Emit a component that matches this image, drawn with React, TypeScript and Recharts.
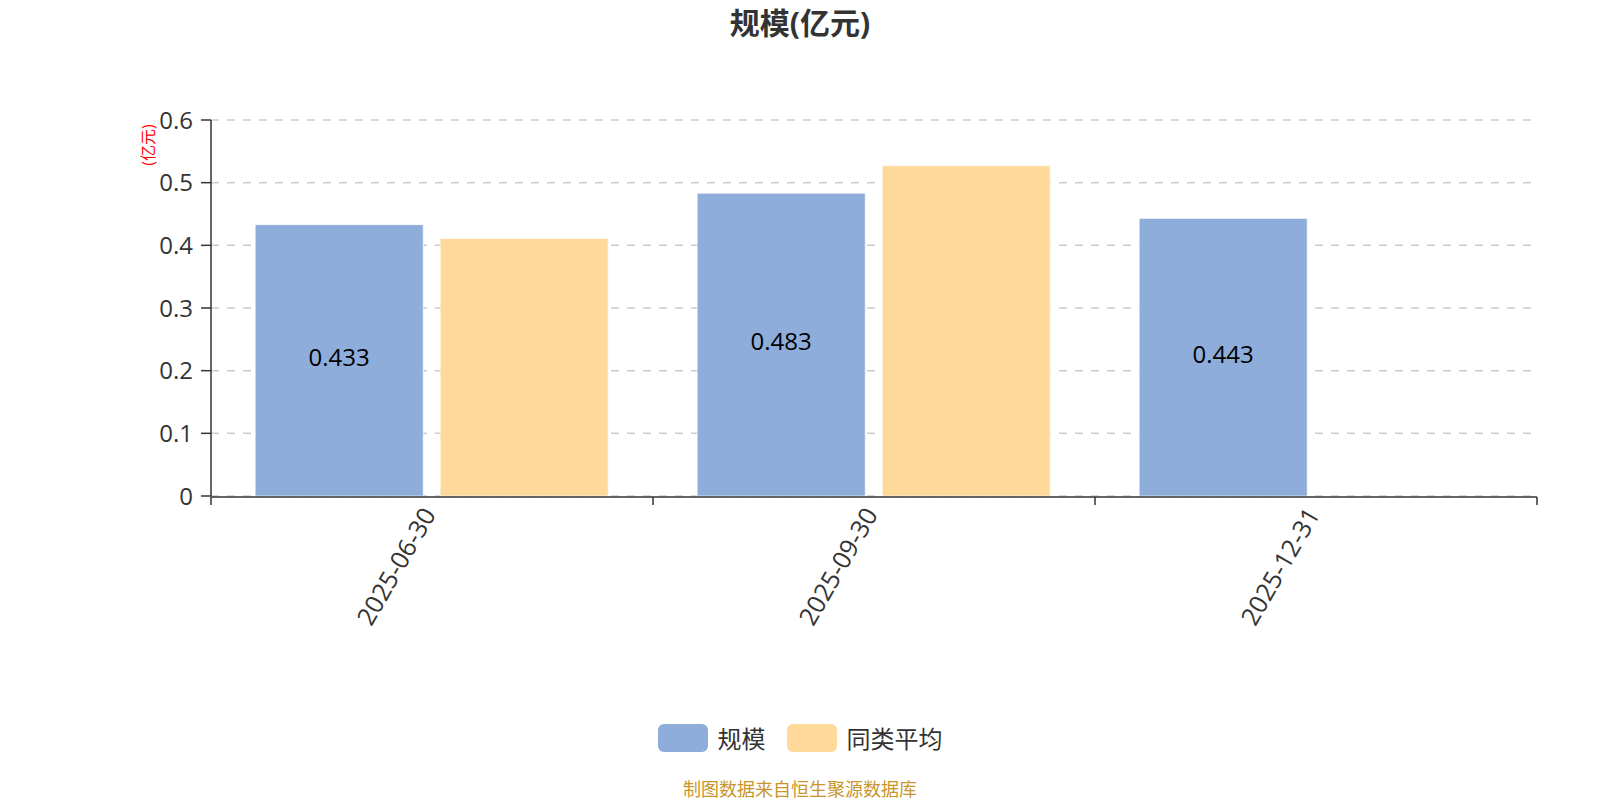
import React from "react";
import {
  BarChart,
  Bar,
  XAxis,
  YAxis,
  CartesianGrid,
  Legend,
  LabelList,
} from "recharts";

const categories = ["2025-06-30", "2025-09-30", "2025-12-31"];
const scaleValues = [0.433, 0.483, 0.443];
const peerAvgValues: (number | null)[] = [0.411, 0.527, null];
const yTicks = [0, 0.1, 0.2, 0.3, 0.4, 0.5, 0.6];

const seriesNames = { scale: "规模", peer: "同类平均" };
const BLUE = "#8EADDA";
const ORANGE = "#FED99A";
const FONT = "'Open Sans', 'Noto Sans CJK SC', sans-serif";

// pos = centre of each category band, used by the boundary tick axis
const data = categories.map((date, i) => ({
  date,
  pos: i + 0.5,
  scale: scaleValues[i],
  peer: peerAvgValues[i],
}));

const edgeTicks = categories.map((_, i) => i).concat(categories.length);

function DateTick({ x, y, payload }: any) {
  return (
    <g transform={`translate(${x - 3},${y + 4})`}>
      <text
        transform="rotate(-60)"
        textAnchor="end"
        dy="0.35em"
        fontSize={25}
        fill="#333"
        fontFamily={FONT}
      >
        {payload.value}
      </text>
    </g>
  );
}

function LegendContent() {
  const items = [
    { name: seriesNames.scale, color: BLUE },
    { name: seriesNames.peer, color: ORANGE },
  ];
  return (
    <div style={{ display: "flex", justifyContent: "center", alignItems: "center", gap: 21 }}>
      {items.map((it) => (
        <div key={it.name} style={{ display: "flex", alignItems: "center" }}>
          <span
            style={{
              display: "inline-block",
              width: 50,
              height: 28,
              borderRadius: 6,
              background: it.color,
              marginRight: 10,
            }}
          />
          <span style={{ fontSize: 24, color: "#333", fontFamily: FONT }}>{it.name}</span>
        </div>
      ))}
    </div>
  );
}

export default function App() {
  return (
    <div style={{ position: "absolute", left: 0, top: 0, background: "#fff" }}>
      <BarChart
        width={1600}
        height={800}
        data={data}
        margin={{ top: 120, right: 63, left: 0, bottom: 135 }}
        barCategoryGap="10%"
        barGap={17}
      >
        <text
          x={800}
          y={34}
          textAnchor="middle"
          fontSize={30}
          fontWeight="bold"
          fill="#333"
          fontFamily={FONT}
        >
          规模(亿元)
        </text>
        <text
          x={0}
          y={0}
          transform="translate(154,145) rotate(-90)"
          textAnchor="middle"
          fontSize={16}
          fill="#FF0000"
          fontFamily={FONT}
        >
          (亿元)
        </text>
        <CartesianGrid
          horizontal
          vertical={false}
          stroke="#ccc"
          strokeDasharray="8 8"
          strokeWidth={1.5}
        />
        <XAxis
          dataKey="date"
          interval={0}
          height={1}
          axisLine={false}
          tickLine={false}
          tickSize={8}
          tick={<DateTick />}
        />
        <XAxis
          xAxisId="edge"
          dataKey="pos"
          type="number"
          domain={[0, categories.length]}
          allowDataOverflow
          ticks={edgeTicks}
          tickFormatter={() => ""}
          height={138}
          tickSize={8}
          axisLine={{ stroke: "#333", strokeWidth: 1.5 }}
          tickLine={{ stroke: "#333", strokeWidth: 1.5 }}
        />
        <YAxis
          width={211}
          domain={[0, 0.6]}
          ticks={yTicks}
          tickSize={10}
          tickMargin={8}
          axisLine={{ stroke: "#333", strokeWidth: 1.5 }}
          tickLine={{ stroke: "#333", strokeWidth: 1.5 }}
          tick={{ fontSize: 24, fill: "#333", fontFamily: FONT }}
        />
        <Legend
          height={30}
          wrapperStyle={{ bottom: 50, left: 0, width: 1600 }}
          content={<LegendContent />}
        />
        <Bar
          dataKey="scale"
          name={seriesNames.scale}
          fill={BLUE}
          stroke="rgba(255,255,255,0.6)"
          strokeWidth={1}
          isAnimationActive={false}
        >
          <LabelList
            dataKey="scale"
            position="center"
            dy={-3}
            fill="#000"
            fontSize={24}
            fontFamily={FONT}
          />
        </Bar>
        <Bar
          dataKey="peer"
          name={seriesNames.peer}
          fill={ORANGE}
          stroke="rgba(255,255,255,0.6)"
          strokeWidth={1}
          isAnimationActive={false}
        />
        <text
          x={800}
          y={796}
          textAnchor="middle"
          fontSize={18}
          fill="#C8952B"
          fontFamily={FONT}
        >
          制图数据来自恒生聚源数据库
        </text>
      </BarChart>
    </div>
  );
}
